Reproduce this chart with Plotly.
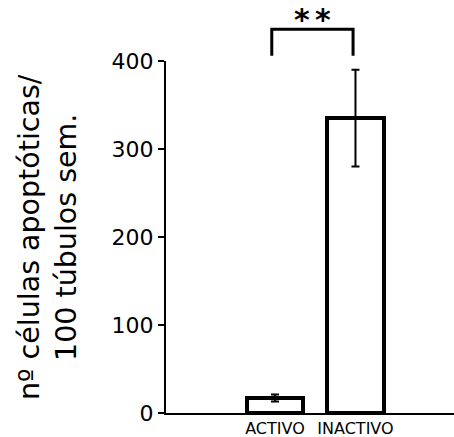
import plotly.graph_objects as go

categories = ["ACTIVO", "INACTIVO"]
values = [17, 335]
errors = [4, 55]
y_ticks = [0, 100, 200, 300, 400]
significance = "**"
y_title = "nº células apoptóticas/<br>100 túbulos sem."

FONT = "DejaVu Sans"
x_pos = list(range(len(categories)))

fig = go.Figure()
fig.add_trace(go.Bar(
    x=x_pos, y=values, width=0.7,
    marker=dict(color="white", line=dict(color="black", width=4)),
    error_y=dict(type="data", array=errors, visible=True,
                 color="black", thickness=2, width=4),
    showlegend=False,
))

# significance bracket (drawn above the plotting area)
bx0, bx1 = -0.04, 0.97
ytop, ybot = 436 / 400, 406 / 400
fig.add_shape(type="path", xref="x", yref="paper",
              path=f"M {bx0},{ybot} L {bx0},{ytop} L {bx1},{ytop} L {bx1},{ybot}",
              line=dict(color="black", width=3))
mid = (bx0 + bx1) / 2
n = len(significance)
for i, ch in enumerate(significance):
    fig.add_annotation(x=mid + (i - (n - 1) / 2) * 0.26, y=1.118, xref="x", yref="paper",
                       text="<b>" + ch + "</b>", showarrow=False,
                       font=dict(family=FONT, size=30, color="black"),
                       xanchor="center", yanchor="middle")

# y title as rotated annotation
fig.add_annotation(x=-0.412, y=0.501, xref="paper", yref="paper",
                   text=y_title, showarrow=False, textangle=-90,
                   font=dict(family=FONT, size=28.5, color="black"),
                   xanchor="center", yanchor="middle")

fig.update_layout(
    width=454, height=437,
    margin=dict(l=166, r=0, t=61, b=24),
    plot_bgcolor="white", paper_bgcolor="white",
    font=dict(family=FONT, color="black"),
    bargap=0,
)
fig.update_xaxes(
    range=[-1.354, 2.224], tickvals=x_pos, ticktext=categories,
    showline=True, linecolor="black", linewidth=2,
    ticks="", showgrid=False, zeroline=False,
    tickfont=dict(family=FONT, size=16, color="black"),
)
fig.update_yaxes(
    range=[0, 400], tickvals=y_ticks,
    showline=True, linecolor="black", linewidth=2,
    ticks="outside", ticklen=6, tickwidth=2, tickcolor="black",
    showgrid=False, zeroline=False,
    tickfont=dict(family=FONT, size=22, color="black"),
)

fig.write_html("out.html", config={"displayModeBar": False},
               post_script="document.body.style.margin='0';document.body.style.overflow='hidden';")
